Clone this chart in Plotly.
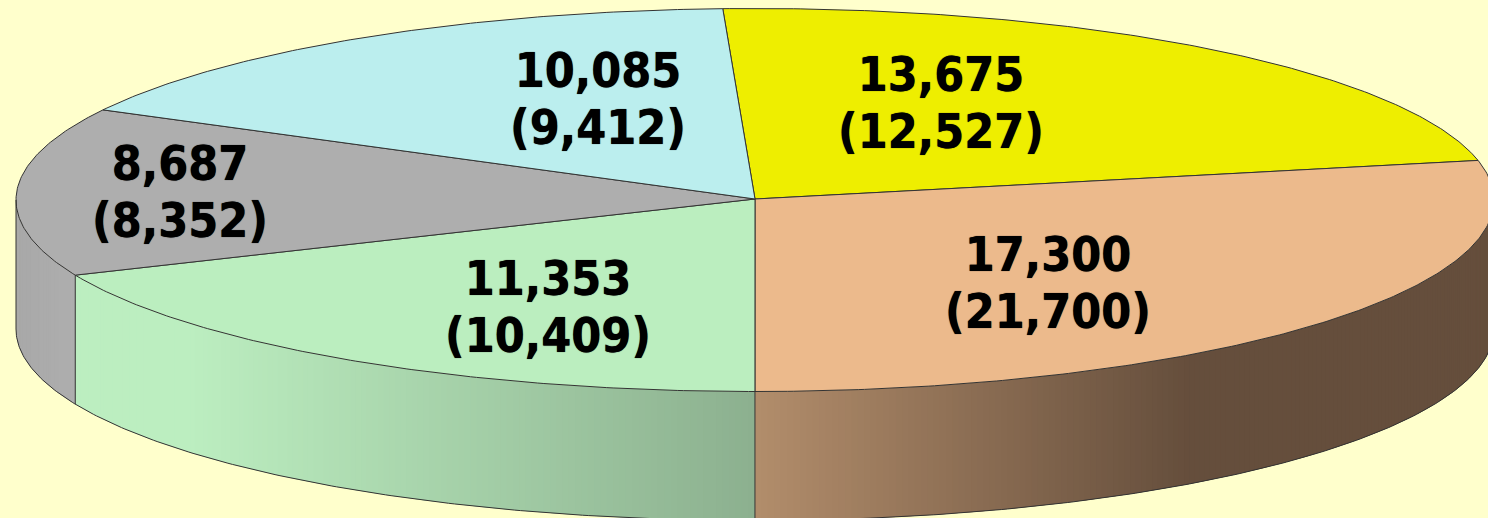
import math
import plotly.graph_objects as go

# Data, clockwise from the top of the pie
categories = ["Yellow", "Orange", "Green", "Gray", "Cyan"]
current = [13675, 17300, 11353, 8687, 10085]
previous = [12527, 21700, 10409, 8352, 9412]

# Style and layout
top_colors = ["#EEEE00", "#ECBA8C", "#BBEEBF", "#AEAEAE", "#BBEEEE"]
BG = "#FFFFCC"
CX, CY, RX, RY, DEPTH = 755, 200, 739, 191.5, 129
APEX_Y = 199
START_DEG = -2.5
EDGE = "#333333"
label_x = [941, 1048, 548, 180, 598]
label_y1 = [79, 259, 283, 168, 75]
LINE_GAP = 57
FONT = dict(family="DejaVu Sans Condensed, DejaVu Sans", size=48, color="#000000",
            weight="bold", shadow="0 0 0.8px #000000")


def px(t):
    return CX + RX * math.sin(math.radians(t))


def py(t):
    return CY - RY * math.cos(math.radians(t))


def mix(a, b, f):
    f = max(0.0, min(1.0, f))
    return "rgb(%d,%d,%d)" % tuple(round(a[i] + (b[i] - a[i]) * f) for i in range(3))


def side_color(name, x):
    if name == "Orange":
        return mix((178, 141, 107), (101, 78, 60), (x - 755) / (1190 - 755))
    if name == "Green":
        return mix((188, 238, 192), (140, 176, 143), (x - 190) / (755 - 190))
    if name == "Gray":
        return mix((168, 168, 168), (174, 174, 174), (x - 16) / 58)
    return "#888888"


total = sum(current)
spans = []
a = START_DEG
for v in current:
    b = a + 360 * v / total
    spans.append((a, b))
    a = b

fig = go.Figure()


def poly(xs, ys, fill, line=None, width=1):
    fig.add_trace(go.Scatter(
        x=xs, y=ys, mode="lines", fill="toself", fillcolor=fill,
        line=dict(color=line or fill, width=width if line else 0),
        hoverinfo="skip", showlegend=False))


def outline(xs, ys, width=1):
    fig.add_trace(go.Scatter(x=xs, y=ys, mode="lines",
                             line=dict(color=EDGE, width=width),
                             hoverinfo="skip", showlegend=False))


# Visible side wall: the front half of the rim (90 to 270 degrees)
for name, (a, b) in zip(categories, spans):
    lo, hi = max(a, 90), min(b, 270)
    if lo >= hi:
        continue
    n = max(2, int((hi - lo) / 0.5))
    step = (hi - lo) / n
    for i in range(n):
        t0 = lo + step * i
        t1 = min(hi, t0 + 2 * step)   # overlap the next strip to hide seams
        xs = [px(t0), px(t1), px(t1), px(t0), px(t0)]
        ys = [py(t0), py(t1), py(t1) + DEPTH, py(t0) + DEPTH, py(t0)]
        mid = px(t0 + step / 2)
        poly(xs, ys, side_color(name, mid))

# Top face slices
for color, (a, b) in zip(top_colors, spans):
    n = max(2, int((b - a) / 0.5))
    ts = [a + (b - a) * i / n for i in range(n + 1)]
    xs = [CX] + [px(t) for t in ts] + [CX]
    ys = [APEX_Y] + [py(t) for t in ts] + [APEX_Y]
    poly(xs, ys, color, line=EDGE, width=1)

# Bottom rim and wall edges
ts = [90 + i * 0.5 for i in range(361)]
outline([px(t) for t in ts], [py(t) + DEPTH for t in ts])
outline([px(270), px(270)], [py(270), py(270) + DEPTH])
for a, b in spans:
    if 90 < b < 270:
        outline([px(b), px(b)], [py(b), py(b) + DEPTH])

# Labels
fig.add_trace(go.Scatter(
    x=label_x, y=label_y1, mode="text",
    text=[f"{v:,}" for v in current], textposition="middle center",
    textfont=FONT, hoverinfo="skip", showlegend=False))
fig.add_trace(go.Scatter(
    x=label_x, y=[y + LINE_GAP for y in label_y1], mode="text",
    text=[f"({v:,})" for v in previous], textposition="middle center",
    textfont=FONT, hoverinfo="skip", showlegend=False))

fig.update_layout(
    width=1488, height=518, margin=dict(l=0, r=0, t=0, b=0),
    paper_bgcolor=BG, plot_bgcolor=BG,
    xaxis=dict(range=[0, 1488], visible=False, fixedrange=True),
    yaxis=dict(range=[518, 0], visible=False, fixedrange=True),
)
fig.write_html("out.html", config={"displayModeBar": False},
               post_script="document.body.style.margin='0';document.body.style.overflow='hidden';")
